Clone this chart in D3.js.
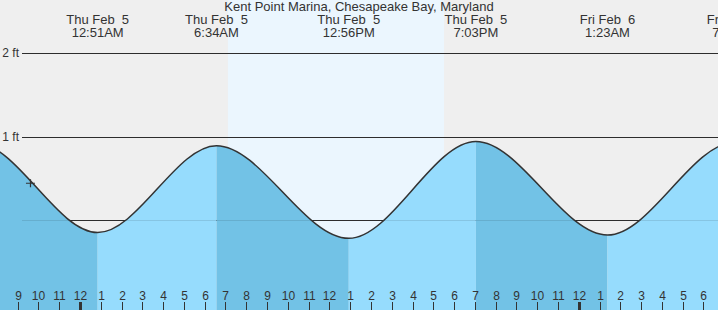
<!DOCTYPE html>
<html>
	<head>
		<title>Kent Point Marina tides</title>
		<script src="https://cdn.jsdelivr.net/npm/d3@7"></script>
		<style type="text/css">
			body {
				margin: 0;
				font: 12px "Liberation Sans", Arial, sans-serif;
			}
			svg text {
				white-space: pre;
			}
		</style>
	</head>
	<body>
		<script type="text/javascript">
			var w = 718;
			var h = 310;

			var title = "Kent Point Marina, Chesapeake Bay, Maryland";

			// high / low tides (local time) and heights in feet
			var tideTimes = ["2026-02-04T12:40", "2026-02-04T19:00", "2026-02-05T00:51", "2026-02-05T06:34",
				"2026-02-05T12:56", "2026-02-05T19:03", "2026-02-06T01:23", "2026-02-06T07:30", "2026-02-06T13:50"];
			var tideFeet = [-0.2, 0.92, -0.15, 0.89, -0.22, 0.94, -0.18, 0.93, -0.2];

			var sunrise = "2026-02-05T07:07";
			var sunset = "2026-02-05T17:31";

			var nowTime = "2026-02-04T21:37";
			var nowFeet = 0.44;

			var feetTicks = [0, 1, 2];

			var viewStart = "2026-02-04T20:09";
			var viewEnd = "2026-02-06T06:42";

			var parse = d3.timeParse("%Y-%m-%dT%H:%M");
			var tides = tideTimes.map(function (t, i) {
				return {date: parse(t), ft: tideFeet[i]};
			});

			var x = d3.scaleTime()
				.domain([parse(viewStart), parse(viewEnd)])
				.range([0, w]);

			var y = d3.scaleLinear()
				.domain([0, 2])
				.range([220, 53]);

			var svg = d3.select("body")
				.append("svg")
					.attr("width", w)
					.attr("height", h);

			svg.append("rect")
				.attr("width", w)
				.attr("height", h)
				.attr("fill", "#efefef");

			svg.append("rect")
				.attr("x", x(parse(sunrise)))
				.attr("width", x(parse(sunset)) - x(parse(sunrise)))
				.attr("height", h)
				.attr("fill", "#ebf6fe");

			// grid lines under the water
			var grid = svg.append("g");
			grid.selectAll("line")
				.data(feetTicks)
				.enter().append("line")
					.attr("x1", 22)
					.attr("x2", w)
					.attr("y1", function (d) { return Math.round(y(d)) + 0.5; })
					.attr("y2", function (d) { return Math.round(y(d)) + 0.5; })
					.attr("stroke", "#333")
					.attr("stroke-width", 1);

			grid.selectAll("text")
				.data(feetTicks)
				.enter().append("text")
					.attr("x", 19)
					.attr("y", function (d) { return y(d) + 4; })
					.attr("text-anchor", "end")
					.attr("fill", "#333")
					.text(function (d) { return d + " ft"; });

			var area = d3.area()
				.curve(d3.curveMonotoneX)
				.x(function (d) { return x(d.date); })
				.y0(h)
				.y1(function (d) { return y(d.ft); });

			var line = d3.line()
				.curve(d3.curveMonotoneX)
				.x(function (d) { return x(d.date); })
				.y(function (d) { return y(d.ft); });

			// falling tide darker, rising tide lighter
			var segs = d3.pairs(tides);
			var defs = svg.append("defs");
			segs.forEach(function (s, i) {
				defs.append("clipPath")
					.attr("id", "seg" + i)
				  .append("rect")
					.attr("x", x(s[0].date))
					.attr("width", x(s[1].date) - x(s[0].date))
					.attr("y", 0)
					.attr("height", h);
			});

			svg.selectAll("path.water")
				.data(segs)
				.enter().append("path")
					.attr("class", "water")
					.attr("clip-path", function (d, i) { return "url(#seg" + i + ")"; })
					.attr("fill", function (d) { return d[0].ft > d[1].ft ? "#72c2e6" : "#96dcfd"; })
					.attr("d", area(tides));

			// faint grid line through the water
			svg.append("g").selectAll("line")
				.data(feetTicks)
				.enter().append("line")
					.attr("x1", 22)
					.attr("x2", w)
					.attr("y1", function (d) { return Math.round(y(d)) + 0.5; })
					.attr("y2", function (d) { return Math.round(y(d)) + 0.5; })
					.attr("stroke", "#000")
					.attr("stroke-opacity", 0.1);

			svg.append("path")
				.attr("d", line(tides))
				.attr("fill", "none")
				.attr("stroke", "#333")
				.attr("stroke-width", 1.5);

			// current time marker
			svg.append("path")
				.attr("transform", "translate(" + [x(parse(nowTime)), y(nowFeet)] + ")")
				.attr("d", "M-4.5,0H4.5M0,-4V4")
				.attr("stroke", "#333")
				.attr("stroke-width", 1.2);

			// title and high/low labels
			svg.append("text")
				.attr("x", w / 2)
				.attr("y", 11)
				.attr("text-anchor", "middle")
				.attr("fill", "#333")
				.style("font-size", "13px")
				.text(title);

			var fmtDay = d3.timeFormat("%a %b %e");
			var fmtTime = d3.timeFormat("%-I:%M%p");
			var labels = svg.append("g").selectAll("g")
				.data(tides.filter(function (d) { return x(d.date) > 0 && x(d.date) < w + 40; }))
				.enter().append("g")
					.attr("transform", function (d) { return "translate(" + x(d.date) + ",0)"; })
					.attr("text-anchor", "middle")
					.attr("fill", "#333")
					.style("font-size", "13px");
			labels.append("text")
				.attr("y", 24)
				.text(function (d) { return fmtDay(d.date); });
			labels.append("text")
				.attr("y", 36.5)
				.text(function (d) { return fmtTime(d.date); });

			// hour axis
			var hours = d3.timeHour.range(x.domain()[0], x.domain()[1]);
			var axis = svg.append("g").selectAll("g")
				.data(hours)
				.enter().append("g")
					.attr("transform", function (d) { return "translate(" + Math.round(x(d)) + ",0)"; });
			axis.append("line")
				.attr("x1", 0.5)
				.attr("x2", 0.5)
				.attr("y1", 302)
				.attr("y2", h)
				.attr("stroke", "#333")
				.attr("stroke-width", function (d) { return d.getHours() === 0 ? 3 : 1; });
			axis.append("text")
				.attr("x", 0.5)
				.attr("y", 300)
				.attr("text-anchor", "middle")
				.attr("fill", "#333")
				.text(d3.timeFormat("%-I"));
		</script>
	</body>
</html>
